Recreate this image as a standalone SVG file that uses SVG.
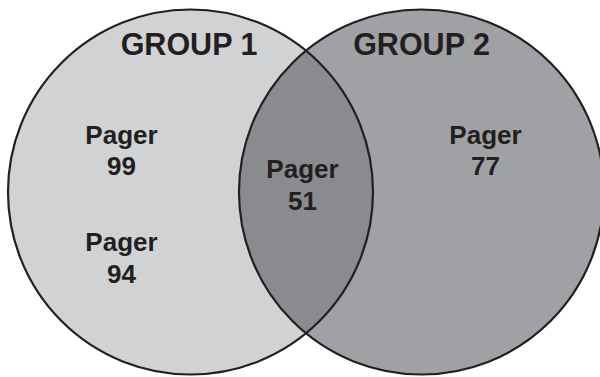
<svg xmlns="http://www.w3.org/2000/svg" width="600" height="377" viewBox="0 0 600 377">
<defs>
<style>
.set{stroke:none}
.ring{fill:none;stroke:#231f20;stroke-width:2.2}
.t{font-family:"Liberation Sans",Arial,sans-serif;font-weight:bold;fill:#231f20;text-anchor:middle}
.h{font-size:30.5px}
.l{font-size:26px}
</style>
<clipPath id="clipA"><circle cx="190.5" cy="192" r="182.5"/></clipPath>
</defs>
<rect width="600" height="377" fill="#ffffff"/>
<g id="group1">
<circle class="set" cx="190.5" cy="192" r="182.5" fill="#d1d2d4"/>
</g>
<g id="group2">
<circle class="set" cx="421.5" cy="192" r="182.5" fill="#a0a1a5"/>
</g>
<g id="overlap">
<circle class="set" cx="421.5" cy="192" r="182.5" fill="#8a8b8f" clip-path="url(#clipA)"/>
</g>
<g id="outlines">
<circle class="ring" cx="190.5" cy="192" r="182.5"/>
<circle class="ring" cx="421.5" cy="192" r="182.5"/>
</g>
<g id="labels">
<text class="t h" x="189" y="55">GROUP 1</text>
<text class="t h" x="421.5" y="55">GROUP 2</text>
<text class="t l" x="121.5" y="144">Pager</text>
<text class="t l" x="121.5" y="175">99</text>
<text class="t l" x="121.5" y="251">Pager</text>
<text class="t l" x="121.5" y="283">94</text>
<text class="t l" x="302.5" y="178">Pager</text>
<text class="t l" x="302.5" y="210">51</text>
<text class="t l" x="485.5" y="144">Pager</text>
<text class="t l" x="485.5" y="175">77</text>
</g>
</svg>
